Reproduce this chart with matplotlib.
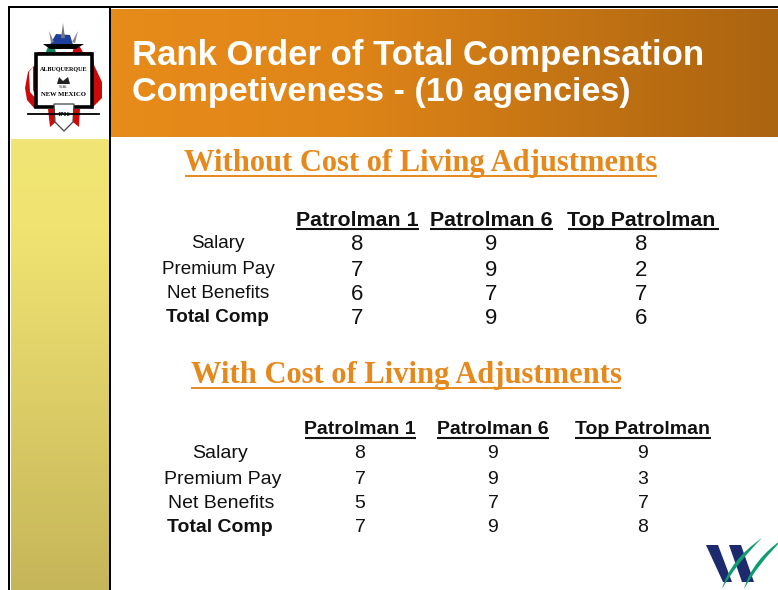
import matplotlib
matplotlib.use('Agg')
import matplotlib.pyplot as plt
import numpy as np
from matplotlib.patches import Polygon, Rectangle, PathPatch
from matplotlib.path import Path
from matplotlib.colors import LinearSegmentedColormap

title_lines = ['Rank Order of Total Compensation', 'Competiveness - (10 agencies)']
heading_1 = 'Without Cost of Living Adjustments'
heading_2 = 'With Cost of Living Adjustments'
columns = ['Patrolman 1', 'Patrolman 6', 'Top Patrolman']
rows = ['Salary', 'Premium Pay', 'Net Benefits', 'Total Comp']
without_cola = [[8, 9, 8], [7, 9, 2], [6, 7, 7], [7, 9, 6]]
with_cola = [[8, 9, 9], [7, 9, 3], [5, 7, 7], [7, 9, 8]]

plt.rcParams['font.family'] = ['Liberation Sans', 'DejaVu Sans']

fig = plt.figure(figsize=(7.78, 5.9), dpi=100)
ax = fig.add_axes([0, 0, 1, 1])
ax.set_xlim(0, 778)
ax.set_ylim(590, 0)
ax.axis('off')

# background gradients
orange = LinearSegmentedColormap.from_list('o', [(0, '#e78b1a'), (0.35, '#df8518'), (1, '#ab6410')])
ax.imshow(np.linspace(0, 1, 300).reshape(1, -1), cmap=orange, extent=(111, 778, 137, 9), aspect='auto')
yellow = LinearSegmentedColormap.from_list('y', [(0, '#f1e575'), (0.2, '#f0e372'), (1, '#c6b65a')])
ax.imshow(np.linspace(0, 1, 300).reshape(-1, 1), cmap=yellow, extent=(11, 109, 590, 139), aspect='auto')
ax.set_xlim(0, 778)
ax.set_ylim(590, 0)

# frame
ax.add_patch(Rectangle((8.5, 6), 769.5, 2.2, color='black', lw=0))
ax.add_patch(Rectangle((8.5, 6), 1.8, 584, color='black', lw=0))
ax.add_patch(Rectangle((109, 8), 1.8, 582, color='black', lw=0))

# city seal
ax.add_patch(Polygon([(25, 88), (28, 72), (35, 65), (38, 52), (92, 52), (94, 65), (102, 82), (102, 98), (92, 108), (34, 108), (27, 100)], color='#cc0a0a', lw=0))
ax.add_patch(Polygon([(29, 72), (33, 67), (33, 90), (37, 100), (30, 92)], color='white', lw=0))
ax.add_patch(Polygon([(50, 127), (48, 109), (80, 109), (79, 127), (68, 118), (60, 118)], color='#cc0a0a', lw=0))
ax.add_patch(Polygon([(48, 48), (56, 34), (70, 35), (74, 48)], color='#1d3f9e', lw=0))
ax.add_patch(Polygon([(45, 54), (48, 47), (55, 47), (56, 54)], color='#12825a', lw=0))
ax.add_patch(Polygon([(72, 54), (74, 47), (80, 47), (84, 54)], color='#cc0a0a', lw=0))
ax.add_patch(Polygon([(63, 23), (65, 38), (61, 38)], color='#777777', lw=0))
ax.add_patch(Polygon([(49, 31), (54, 42), (51, 43)], color='#888888', lw=0))
ax.add_patch(Polygon([(78, 31), (75, 43), (72, 42)], color='#888888', lw=0))
ax.add_patch(Polygon([(43, 44), (84, 44), (76, 49), (50, 49)], color='black', lw=0))
ax.add_patch(Rectangle((36, 54), 56, 53, facecolor='white', edgecolor='black', lw=2.6))
ax.text(64, 69, 'ALBUQUERQUE', ha='center', va='center', fontsize=4.4, family='Liberation Serif', fontweight='bold')
ax.text(63.5, 94, 'NEW MEXICO', ha='center', va='center', fontsize=4.8, family='Liberation Serif', fontweight='bold')
ax.add_patch(Polygon([(59, 77), (63, 81), (68, 77), (70, 84), (57, 84)], color='#222222', lw=0))
ax.text(63.5, 86.5, 'SEAL', ha='center', va='center', fontsize=2.6, color='#333333')
ax.plot([28, 99], [114, 114], color='black', lw=1.3)
ax.add_patch(Polygon([(54, 104), (74, 104), (73, 122), (64, 131), (55, 122)], facecolor='white', edgecolor='#444444', lw=0.9))
ax.text(64, 114, '1706', ha='center', va='center', fontsize=4.6, family='Liberation Serif', fontweight='bold')

# title
ax.text(132, 56, title_lines[0], color='white', fontsize=25, fontweight='bold', va='center', ha='left')
ax.text(132, 93, title_lines[1], color='white', fontsize=24.6, fontweight='bold', va='center', ha='left')


def heading(label, x0, x1, y):
    ax.text((x0 + x1) / 2, y + 3, label, color='#e5891c', family='Liberation Serif', fontweight='bold', fontsize=22, ha='center', va='center')
    ax.plot([x0, x1], [y + 15, y + 15], color='#e5891c', lw=1.4, solid_capstyle='butt')


def table(values, col_x, ul, col_y, row_x, row_y, val_y, head_size, val_size, lab_size):
    for x, (x0, x1), label in zip(col_x, ul, columns):
        t = ax.text(x, col_y + 1.5, label, color='#111111', fontsize=head_size, fontweight='bold', ha='center', va='center')
        # the lower edge of the letters is cut off in the slide
        t.set_clip_path(Rectangle((0, 0), 778, col_y + 8, transform=ax.transData))
        ax.plot([x0, x1], [col_y + 9.5, col_y + 9.5], color='#111111', lw=1.5, solid_capstyle='butt')
    for i, label in enumerate(rows):
        t = ax.text(row_x[i], row_y[i] + 1, label, color='#111111', fontsize=lab_size, ha='center', va='center', fontweight='bold' if i == 3 else 'normal')
        if i == 1:
            t.set_clip_path(Rectangle((0, 0), 778, row_y[i] + 5, transform=ax.transData))
        for x, v in zip(col_x, values[i]):
            ax.text(x, val_y[i] + 1, str(v), color='#111111', fontsize=val_size, ha='center', va='center')


heading(heading_1, 185, 657, 161)
table(without_cola, [357, 491, 641], [(296, 419), (430, 553), (568, 719)], 219,
      [218, 218, 218, 217], [242, 268, 292, 316], [244, 269, 294, 318], 15.4, 16, 13.6)

heading(heading_2, 191, 621, 373)
table(with_cola, [360, 493, 643], [(305, 416), (437, 549), (575, 711)], 428,
      [220, 223, 221, 220], [452, 478, 502, 526], [452, 478, 503, 526], 14, 14, 14)

# logo, bottom right
ax.add_patch(Polygon([(706, 545), (718, 545), (732, 582), (723, 582)], color='#1d2b6e', lw=0))
ax.add_patch(Polygon([(729, 545), (741, 545), (754, 582), (742, 582)], color='#1d2b6e', lw=0))
for dx in (0, 22):
    verts = [(722 + dx, 589), (730 + dx, 560), (762 + dx, 538), (736 + dx, 564), (722 + dx, 589)]
    codes = [Path.MOVETO, Path.CURVE3, Path.CURVE3, Path.CURVE3, Path.CURVE3]
    ax.add_patch(PathPatch(Path(verts, codes), facecolor='#0e9c70', edgecolor='none', clip_on=True))

fig.savefig('out.png', dpi=100)
